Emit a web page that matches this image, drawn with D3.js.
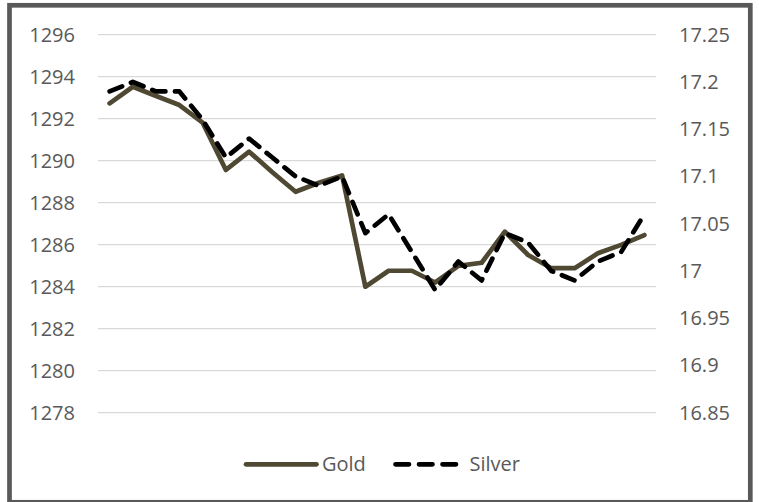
<!DOCTYPE html>
<html>
<head>
<meta charset="utf-8">
<script src="https://cdn.jsdelivr.net/npm/d3@7"></script>
<style>
  html, body { margin: 0; padding: 0; background: #fff; }
  svg { display: block; }
  text { font-family: "Open Sans", "Noto Sans", sans-serif; fill: #595959; }
</style>
</head>
<body>
<svg id="chart" width="759" height="502"></svg>
<script>
const categories = ["1","2","3","4","5","6","7","8","9","10","11","12","13","14","15","16","17","18","19","20","21","22","23","24"];
const gold = [1292.73, 1293.52, 1293.08, 1292.65, 1291.81, 1289.56, 1290.43, 1289.45, 1288.52, 1288.95, 1289.3, 1284.0,
              1284.76, 1284.76, 1284.2, 1284.99, 1285.14, 1286.62, 1285.51, 1284.88, 1284.88, 1285.59, 1285.99, 1286.46];
const silver = [17.19, 17.20, 17.19, 17.19, 17.16, 17.12, 17.14, 17.12, 17.10, 17.09, 17.10, 17.04,
                17.06, 17.02, 16.98, 17.01, 16.99, 17.04, 17.03, 17.00, 16.99, 17.01, 17.02, 17.06];
const leftTicks = [1278, 1280, 1282, 1284, 1286, 1288, 1290, 1292, 1294, 1296];
const rightTicks = [16.85, 16.9, 16.95, 17, 17.05, 17.1, 17.15, 17.2, 17.25];
const seriesNames = ["Gold", "Silver"];

const svg = d3.select("#chart");
const plot = { left: 98, right: 656, top: 34.7, bottom: 412.7 };
const fontSize = "20px";

const x = d3.scaleBand().domain(categories).range([plot.left, plot.right]);
const yL = d3.scaleLinear().domain([1278, 1296]).range([plot.bottom, plot.top]);
const yR = d3.scaleLinear().domain([16.85, 17.25]).range([plot.bottom, plot.top]);
const cx = c => x(c) + x.bandwidth() / 2;

// gridlines
svg.append("g").selectAll("line").data(leftTicks).join("line")
  .attr("x1", plot.left).attr("x2", plot.right)
  .attr("y1", d => yL(d)).attr("y2", d => yL(d))
  .attr("stroke", "#d9d9d9").attr("stroke-width", 1.3);

// left axis
const axL = d3.axisLeft(yL).tickValues(leftTicks).tickSize(0).tickPadding(0).tickFormat(d3.format("d"));
const gL = svg.append("g").attr("transform", "translate(75,0)").call(axL);
gL.select(".domain").remove();
gL.selectAll("text").attr("font-size", fontSize).attr("fill", "#595959")
  .style("font-family", '"Open Sans", sans-serif');

// right axis
const axR = d3.axisRight(yR).tickValues(rightTicks).tickSize(0).tickPadding(0).tickFormat(d => String(+d.toFixed(2)));
const gR = svg.append("g").attr("transform", "translate(679,0)").call(axR);
gR.select(".domain").remove();
gR.selectAll("text").attr("font-size", fontSize).attr("fill", "#595959")
  .style("font-family", '"Open Sans", sans-serif');

// lines
const goldLine = d3.line().x((d, i) => cx(categories[i])).y(d => yL(d));
const silverLine = d3.line().x((d, i) => cx(categories[i])).y(d => yR(d));

svg.append("path").datum(gold).attr("d", goldLine)
  .attr("fill", "none").attr("stroke", "#4f4832").attr("stroke-width", 4.7)
  .attr("stroke-linejoin", "round").attr("stroke-linecap", "round");

svg.append("path").datum(silver).attr("d", silverLine)
  .attr("fill", "none").attr("stroke", "#000").attr("stroke-width", 4.7)
  .attr("stroke-linejoin", "round").attr("stroke-linecap", "round")
  .attr("stroke-dasharray", "13.5 9.5");

// legend
const lg = svg.append("g");
const ly = 464.3;
lg.append("line").attr("x1", 246).attr("x2", 316.5).attr("y1", ly).attr("y2", ly)
  .attr("stroke", "#4f4832").attr("stroke-width", 4.7).attr("stroke-linecap", "round");
lg.append("text").attr("x", 322).attr("y", ly).attr("dy", "0.35em")
  .attr("font-size", fontSize).text(seriesNames[0]);
lg.append("line").attr("x1", 395.5).attr("x2", 456.5).attr("y1", ly).attr("y2", ly)
  .attr("stroke", "#000").attr("stroke-width", 4.7).attr("stroke-linecap", "round")
  .attr("stroke-dasharray", "13.5 10");
lg.append("text").attr("x", 469.5).attr("y", ly).attr("dy", "0.35em")
  .attr("font-size", fontSize).text(seriesNames[1]);

// border
svg.append("rect").attr("x", 9.5).attr("y", 5.3).attr("width", 740.8).attr("height", 497)
  .attr("fill", "none").attr("stroke", "#595959").attr("stroke-width", 4.7);
</script>
</body>
</html>
